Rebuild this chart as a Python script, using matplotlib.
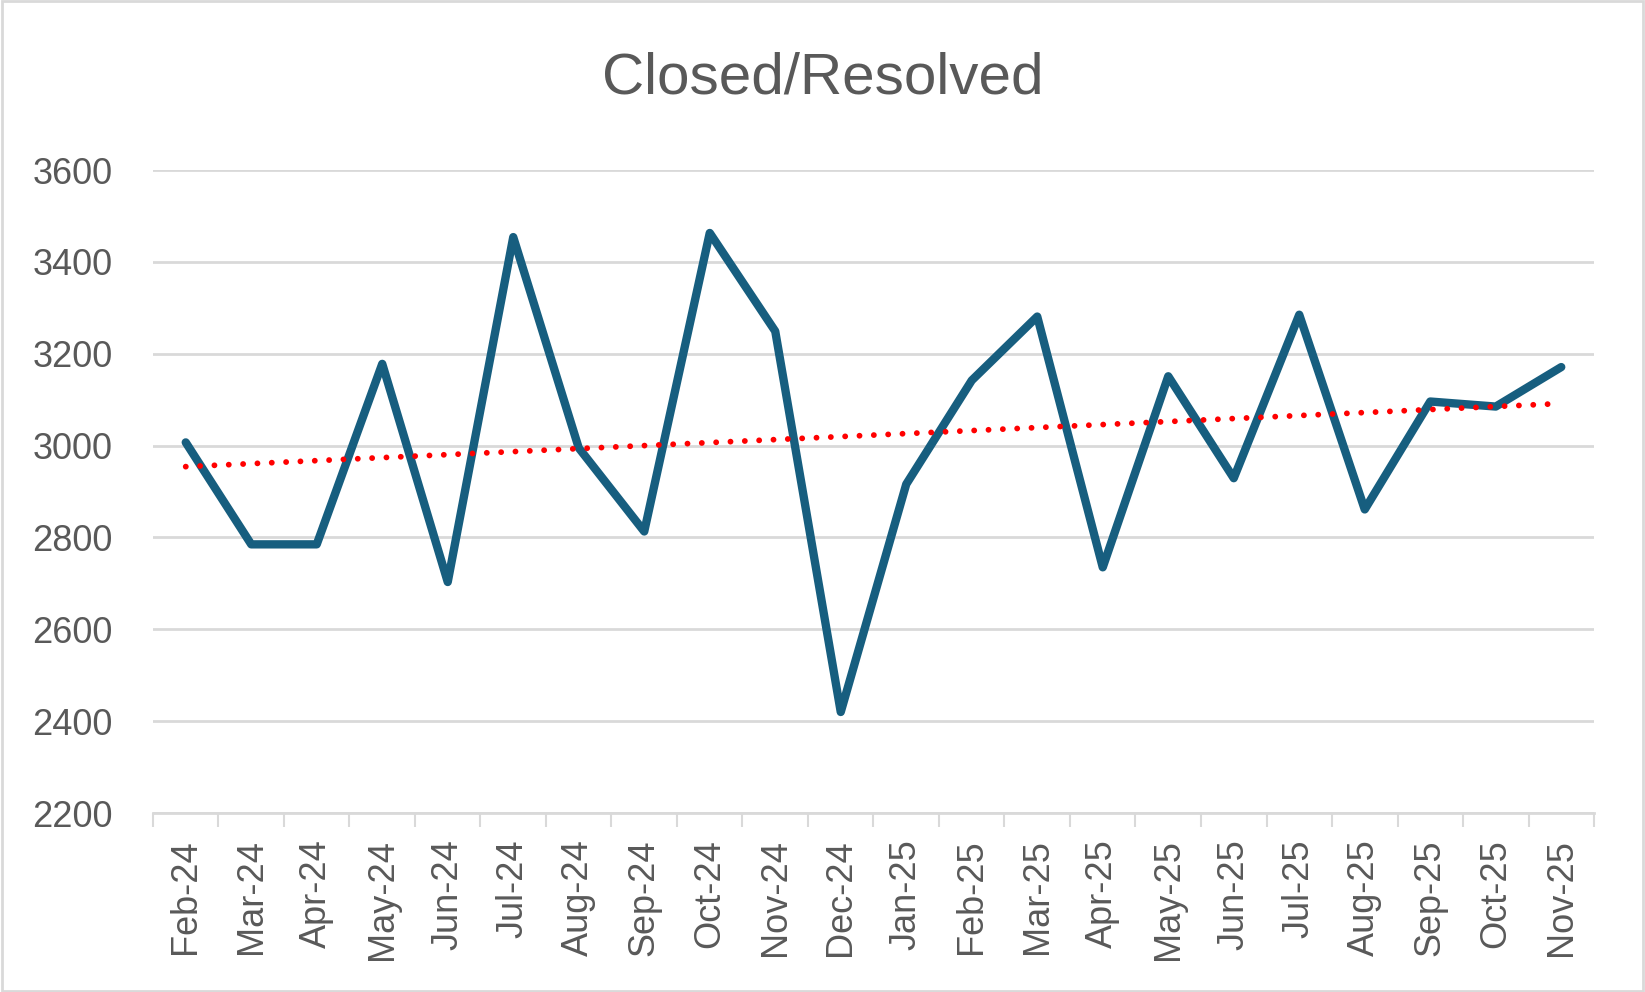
import matplotlib
matplotlib.use("Agg")
import matplotlib.pyplot as plt
import numpy as np
from matplotlib.patches import Rectangle

# ---- data ----
months = ["Feb-24", "Mar-24", "Apr-24", "May-24", "Jun-24", "Jul-24", "Aug-24",
          "Sep-24", "Oct-24", "Nov-24", "Dec-24", "Jan-25", "Feb-25", "Mar-25",
          "Apr-25", "May-25", "Jun-25", "Jul-25", "Aug-25", "Sep-25", "Oct-25", "Nov-25"]
closed = [3007, 2785, 2785, 3178, 2703, 3454, 2995, 2813, 3463, 3249, 2420,
          2916, 3142, 3281, 2735, 3151, 2929, 3285, 2861, 3096, 3085, 3171]
y_ticks = [2200, 2400, 2600, 2800, 3000, 3200, 3400, 3600]

title = "Closed/Resolved"
text_color = "#595959"
grid_color = "#d9d9d9"
line_color = "#175e7f"

plt.rcParams['font.family'] = ['Liberation Sans', 'DejaVu Sans']

fig = plt.figure(figsize=(16.45, 9.92), dpi=100)
ax = fig.add_axes([0.093, 0.1804, 0.876, 0.6482])

x = np.arange(len(months))
ax.plot(x, closed, color=line_color, linewidth=6, solid_joinstyle='round',
        solid_capstyle='round', zorder=3)

# linear trendline
slope, intercept = np.polyfit(x, closed, 1)
ax.plot(x, slope * x + intercept, color="#ff0000", linewidth=4.2,
        linestyle=(0, (0.01, 2.45)), dash_capstyle='round', zorder=4)

ax.set_xlim(-0.5, len(months) - 0.5)
ax.set_ylim(2200, 3600)
ax.set_yticks(y_ticks)
ax.set_yticklabels([str(v) for v in y_ticks])
ax.grid(axis='y', color=grid_color, linewidth=2)
ax.set_axisbelow(True)

ax.set_xticks(x)
ax.set_xticklabels(months, rotation=90)
ax.set_xticks(np.arange(-0.5, len(months)), minor=True)
ax.tick_params(axis='x', which='major', length=0, pad=19, labelsize=26, labelcolor=text_color)
ax.tick_params(axis='x', which='minor', length=10, width=1.5, color=grid_color)
ax.tick_params(axis='y', length=0, pad=29, labelsize=26, labelcolor=text_color)

for side in ['top', 'right', 'left']:
    ax.spines[side].set_visible(False)
ax.spines['bottom'].set_color(grid_color)
ax.spines['bottom'].set_linewidth(2)

fig.text(0.5, 0.921, title, ha='center', va='center', fontsize=42, color=text_color)

# light border around the chart
fig.patches.append(Rectangle((0.001, 0.001), 0.998, 0.998, transform=fig.transFigure,
                             fill=False, edgecolor="#d9d9d9", linewidth=2))

fig.savefig("out.png", dpi=100)
